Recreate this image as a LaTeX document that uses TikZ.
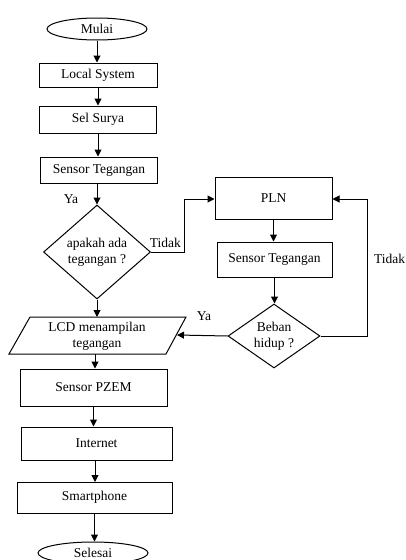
\documentclass[tikz,border=0pt]{standalone}
\usepackage{fontspec}
\setmainfont{Liberation Serif}
\usetikzlibrary{shapes.geometric,arrows.meta}
\begin{document}
\begin{tikzpicture}[x=1pt,y=-1pt,
  every node/.style={font=\fontsize{13.5}{16}\selectfont},
  box/.style={draw, line width=1pt, rectangle, inner sep=0pt},
  term/.style={draw, line width=1pt, ellipse, inner sep=0pt},
  dec/.style={draw, line width=1pt, diamond, inner sep=0pt, align=center},
  lbl/.style={inner sep=0pt},
  arr/.style={line width=1pt, -{Triangle[length=7pt,width=7pt]}},
  ln/.style={line width=1pt}]
\clip (0,0) rectangle (406,560);
\fill[white] (0,0) rectangle (406,560);
% left column
\node[term, minimum width=100pt, minimum height=22pt] (mulai) at (97,29) {Mulai};
\node[box, minimum width=118pt, minimum height=24pt] (local) at (98,75) {Local System};
\node[box, minimum width=117pt, minimum height=27pt] (sel) at (98,119.5) {Sel Surya};
\node[box, minimum width=117pt, minimum height=26pt] (sens1) at (99,170) {Sensor Tegangan};
\node[dec, minimum width=107pt, minimum height=94pt, aspect=1.14] (dia1) at (97,252) {apakah ada\\tegangan ?};
% LCD parallelogram
\coordinate (lcdTL) at (30,317);
\coordinate (lcdTR) at (186,317);
\coordinate (lcdBR) at (166,354);
\coordinate (lcdBL) at (9,354);
\draw[ln] (lcdTL) -- (lcdTR) -- (lcdBR) -- (lcdBL) -- cycle;
\node[lbl, align=center] (lcd) at (97,336) {LCD menampilan\\tegangan};
\coordinate (lcdTop) at (97,317);
\coordinate (lcdBot) at (95,354);
\coordinate (lcdR) at (177,335);
\node[box, minimum width=147pt, minimum height=37pt] (pzem) at (93.5,387.5) {Sensor PZEM};
\node[box, minimum width=151pt, minimum height=33pt] (inet) at (96.5,443.5) {Internet};
\node[box, minimum width=155pt, minimum height=31pt] (smart) at (94.5,497.5) {Smartphone};
\node[term, minimum width=110pt, minimum height=22pt] (selesai) at (93,553) {Selesai};
% right column
\node[box, minimum width=117pt, minimum height=42pt] (pln) at (273.5,198) {PLN};
\node[box, minimum width=115pt, minimum height=35pt] (sens2) at (274.5,259.5) {Sensor Tegangan};
\node[dec, minimum width=92pt, minimum height=64pt, aspect=1.44] (dia2) at (274,336) {Beban\\hidup ?};
% vertical arrows
\draw[arr] (mulai.south) -- (mulai.south |- local.north);
\draw[arr] (local.south) -- (local.south |- sel.north);
\draw[arr] (sel.south) -- (sel.south |- sens1.north);
\draw[arr] (97,183) -- (dia1.north);
\draw[arr] (dia1.south) -- (lcdTop);
\draw[arr] (lcdBot) -- (lcdBot |- pzem.north);
\draw[arr] (pzem.south) -- (pzem.south |- inet.north);
\draw[arr] (95,460) -- (95,482);
\draw[arr] (smart.south) -- (smart.south |- selesai.north);
\draw[arr] (pln.south) -- (pln.south |- sens2.north);
\draw[arr] (sens2.south) -- (sens2.south |- dia2.north);
% branches
\coordinate (c1) at (184,252);
\coordinate (c2) at (184,199);
\draw[ln] (dia1.east) -- (c1) -- (c2);
\draw[arr] (c2) -- (pln.west |- c2);
\coordinate (c3) at (367,336);
\coordinate (c4) at (367,199);
\draw[ln] (dia2.east) -- (c3) -- (c4);
\draw[arr] (c4) -- (pln.east |- c4);
\draw[arr] (dia2.west) -- (lcdR);
% labels
\node[lbl] (ya1) at (71,199) {Ya};
\node[lbl, anchor=east] (tidak1) at (181,243) {Tidak};
\node[lbl] (ya2) at (204,316) {Ya};
\node[lbl, anchor=west] (tidak2) at (374,259) {Tidak};
\end{tikzpicture}
\end{document}
